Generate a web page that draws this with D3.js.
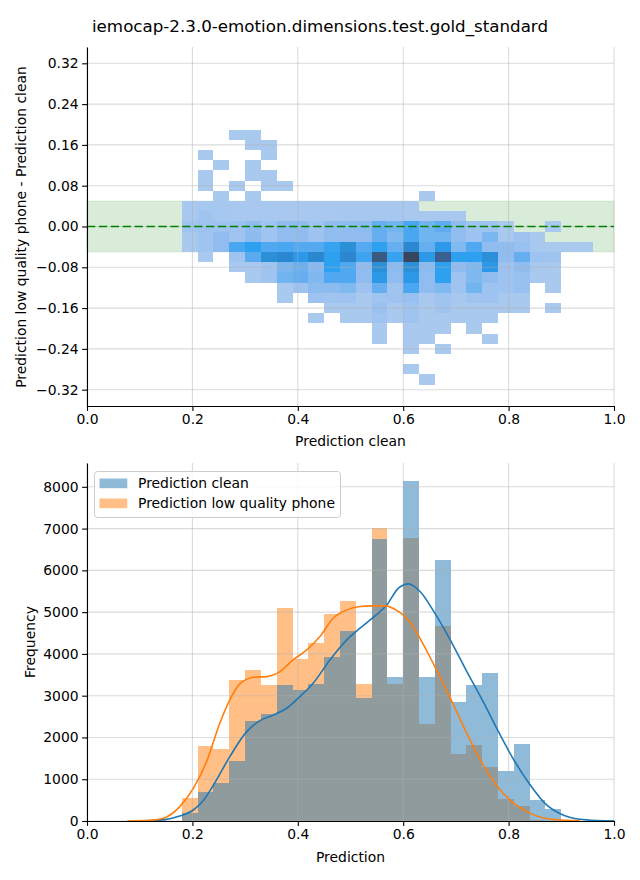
<!DOCTYPE html>
<html><head><meta charset="utf-8">
<script src="https://cdn.jsdelivr.net/npm/d3@7"></script>
<style>body{margin:0;background:#fff}svg{display:block}text{font-family:"DejaVu Sans",sans-serif}</style>
</head><body><svg id="c" width="640" height="880"></svg>
<script>
// ---------------- data ----------------
const title = "iemocap-2.3.0-emotion.dimensions.test.gold_standard";
const seriesNames = ["Prediction clean", "Prediction low quality phone"];
const xTicks = [0, 0.2, 0.4, 0.6, 0.8, 1.0];
const diffTicks = [-0.32, -0.24, -0.16, -0.08, 0, 0.08, 0.16, 0.24, 0.32];
const freqTicks = [0, 1000, 2000, 3000, 4000, 5000, 6000, 7000, 8000];
const bandLimits = [-0.05, 0.05];

// 2D histogram: x bin edges (Prediction clean), y bin edges (difference), counts [row][col]
const heatXEdges = [0.18,0.21,0.24,0.27,0.30,0.33,0.36,0.39,0.42,0.45,0.48,0.51,0.54,0.57,0.60,0.63,0.66,0.69,0.72,0.75,0.78,0.81,0.84,0.87,0.90,0.93,0.96];
const heatYEdges = [0.19,0.17,0.15,0.13,0.11,0.09,0.07,0.05,0.03,0.01,-0.01,-0.03,-0.05,-0.07,-0.09,-0.11,-0.13,-0.15,-0.17,-0.19,-0.21,-0.23,-0.25,-0.27,-0.29,-0.31];
const heatCounts = [
 [0,0,0,20,20,0,0,0,0,0,0,0,0,0,0,0,0,0,0,0,0,0,0,0,0,0],
 [0,0,0,0,20,20,0,0,0,0,0,0,0,0,0,0,0,0,0,0,0,0,0,0,0,0],
 [0,20,0,0,0,20,0,0,0,0,0,0,0,0,0,0,0,0,0,0,0,0,0,0,0,0],
 [0,0,20,0,20,0,0,0,0,0,0,0,0,0,0,0,0,0,0,0,0,0,0,0,0,0],
 [0,20,0,0,20,20,0,0,0,0,0,0,0,0,0,0,0,0,0,0,0,0,0,0,0,0],
 [0,20,0,20,0,20,20,0,0,0,0,0,0,0,0,0,0,0,0,0,0,0,0,0,0,0],
 [0,0,20,0,20,0,0,0,0,0,0,0,0,0,0,20,0,0,0,0,0,0,0,0,0,0],
 [30,60,50,40,40,40,40,40,40,40,40,40,40,40,40,0,0,0,0,0,0,0,0,0,0,0],
 [40,100,50,40,40,40,40,40,40,40,50,50,60,50,40,40,40,30,0,0,0,0,0,0,0,0],
 [100,120,120,120,240,100,240,240,100,240,240,270,560,480,730,480,600,240,100,100,20,0,0,20,0,0],
 [20,100,240,100,270,100,240,240,120,240,240,240,560,350,730,480,480,240,120,400,40,120,20,0,0,0],
 [20,100,240,730,850,700,730,670,670,810,1120,670,850,560,1230,560,990,350,700,240,240,170,40,20,20,20],
 [0,20,0,100,640,1120,1230,990,1230,850,1230,780,2040,810,2200,990,1870,850,850,1120,240,560,120,100,0,0],
 [0,0,0,40,40,100,400,520,300,850,700,240,1120,270,1120,270,850,240,350,990,120,240,40,20,0,0],
 [0,0,0,0,20,100,480,560,350,700,700,240,990,240,990,240,850,120,350,240,120,170,20,20,0,0],
 [0,0,0,0,0,0,20,120,270,270,350,120,560,100,730,240,350,100,480,120,100,170,0,20,0,0],
 [0,0,0,0,0,0,20,0,120,100,120,20,100,120,170,40,100,40,100,120,40,20,0,0,0,0],
 [0,0,0,0,0,0,0,0,0,20,20,20,170,20,100,20,100,20,20,20,20,20,0,20,0,0],
 [0,0,0,0,0,0,0,0,20,0,20,20,100,20,100,20,20,20,20,20,0,0,0,0,0,0],
 [0,0,0,0,0,0,0,0,0,0,0,0,20,0,20,20,20,0,20,0,0,0,0,0,0,0],
 [0,0,0,0,0,0,0,0,0,0,0,0,20,0,20,20,0,0,0,20,0,0,0,0,0,0],
 [0,0,0,0,0,0,0,0,0,0,0,0,0,0,20,0,20,0,0,0,0,0,0,0,0,0],
 [0,0,0,0,0,0,0,0,0,0,0,0,0,0,0,0,0,0,0,0,0,0,0,0,0,0],
 [0,0,0,0,0,0,0,0,0,0,0,0,0,0,20,0,0,0,0,0,0,0,0,0,0,0],
 [0,0,0,0,0,0,0,0,0,0,0,0,0,0,0,20,0,0,0,0,0,0,0,0,0,0]
];

// 1D histograms (shared bins)
const histEdges = [0.18,0.21,0.24,0.27,0.30,0.33,0.36,0.39,0.42,0.45,0.48,0.51,0.54,0.57,0.60,0.63,0.66,0.69,0.72,0.75,0.78,0.81,0.84,0.87,0.90];
const cleanCounts = [200,700,900,1445,2395,2563,3257,3138,3281,3936,4551,2954,6754,3441,8143,3441,6251,2850,3257,3553,1198,1844,503,287];
const phoneCounts = [558,1804,1725,3377,3617,3257,5110,3880,4271,4958,5270,3281,7018,3281,6778,2323,4679,1605,1820,1301,527,367,30,0];

// KDE curves (scaled to counts)
const kdeCleanX = [0.094,0.14,0.176,0.2017,0.22,0.24,0.271,0.303,0.328,0.354,0.379,0.404,0.429,0.461,0.493,0.518,0.539,0.569,0.591,0.610,0.632,0.660,0.691,0.719,0.750,0.779,0.810,0.841,0.869,0.899,0.935,0.97,1.0];
const kdeCleanY = [0,20,120,263,480,862,1541,2140,2403,2539,2699,2978,3297,3856,4335,4615,4830,5174,5573,5677,5493,4975,4295,3617,2898,2180,1461,862,423,168,40,12,5];
const kdePhoneX = [0.0765,0.12,0.145,0.176,0.2017,0.227,0.252,0.271,0.290,0.316,0.341,0.366,0.391,0.417,0.442,0.467,0.493,0.518,0.539,0.5655,0.591,0.610,0.630,0.660,0.691,0.719,0.750,0.779,0.810,0.841,0.869,0.90,0.935];
const kdePhoneY = [0,15,64,343,782,1421,2339,2898,3281,3441,3457,3577,3856,4096,4415,4855,5054,5134,5150,5150,5014,4814,4415,3697,2898,2140,1381,822,423,183,64,20,5];

// ---------------- drawing ----------------
const svg = d3.select("#c");
const FS = 13.9;
const gridStyle = s => s.attr("stroke", "#b0b0b0").attr("stroke-opacity", 0.45).attr("stroke-width", 1.1);

svg.append("text").attr("x", 320).attr("y", 32).attr("text-anchor", "middle")
  .attr("font-size", 16.7).text(title);

// ---- top panel ----
const xT = d3.scaleLinear().domain([0, 1]).range([87, 614]);
const yT = d3.scaleLinear().domain([-0.352, 0.352]).range([406, 47]);
const topG = svg.append("g");

topG.append("rect").attr("x", xT(0)).attr("width", xT(1) - xT(0))
  .attr("y", yT(bandLimits[1])).attr("height", yT(bandLimits[0]) - yT(bandLimits[1]))
  .attr("fill", "#008000").attr("fill-opacity", 0.15)
  .attr("stroke", "#008000").attr("stroke-opacity", 0.1);

const heatColor = d3.scaleLinear()
  .domain([20, 100, 240, 350, 480, 600, 700, 850, 990, 1120, 1230, 1870, 2040, 2200])
  .range(["#aac9ef","#a0c4f0","#90bcf0","#80b8f0","#70b4f0","#60acf0","#50a8f0","#2ea0f0","#2b98e8","#2b90d8","#2b88d0","#3a6090","#3a5a80","#36465f"])
  .clamp(true);

const cells = [];
heatCounts.forEach((row, r) => row.forEach((v, c) => { if (v > 0) cells.push({r, c, v}); }));
topG.append("g").attr("shape-rendering", "crispEdges").selectAll("rect").data(cells).join("rect")
  .attr("x", d => xT(heatXEdges[d.c]))
  .attr("width", d => xT(heatXEdges[d.c + 1]) - xT(heatXEdges[d.c]))
  .attr("y", d => yT(heatYEdges[d.r]))
  .attr("height", d => yT(heatYEdges[d.r + 1]) - yT(heatYEdges[d.r]))
  .attr("fill", d => heatColor(d.v));

// grid
topG.append("g").selectAll("line").data(xTicks).join("line")
  .attr("x1", d => xT(d)).attr("x2", d => xT(d)).attr("y1", 47).attr("y2", 406).call(gridStyle);
topG.append("g").selectAll("line").data(diffTicks).join("line")
  .attr("y1", d => yT(d)).attr("y2", d => yT(d)).attr("x1", 87).attr("x2", 614).call(gridStyle);

// zero line
topG.append("line").attr("x1", xT(0)).attr("x2", xT(1)).attr("y1", yT(0)).attr("y2", yT(0))
  .attr("stroke", "#008000").attr("stroke-width", 1.6).attr("stroke-dasharray", "8.3,3.6");

function styleAxis(g) {
  g.select(".domain").attr("stroke", "#000").attr("stroke-width", 1.1);
  g.selectAll(".tick line").attr("stroke", "#000").attr("stroke-width", 1.1);
  g.selectAll(".tick text").attr("font-size", FS).attr("fill", "#000").attr("font-family", '"DejaVu Sans",sans-serif');
}
topG.append("g").attr("transform", "translate(0,406)")
  .call(d3.axisBottom(xT).tickValues(xTicks).tickFormat(d3.format(".1f")).tickSize(4.9).tickPadding(3.5).tickSizeOuter(0))
  .call(styleAxis);
topG.append("g").attr("transform", "translate(87,0)")
  .call(d3.axisLeft(yT).tickValues(diffTicks).tickFormat(d3.format(".2f")).tickSize(4.9).tickPadding(3.5).tickSizeOuter(0))
  .call(styleAxis);
topG.append("text").attr("x", 350.5).attr("y", 446).attr("text-anchor", "middle").attr("font-size", FS).text(seriesNames[0]);
topG.append("text").attr("transform", "translate(21,227) rotate(-90)").attr("dy", "0.35em")
  .attr("text-anchor", "middle").attr("font-size", FS).text("Prediction low quality phone - Prediction clean");

// ---- bottom panel ----
const xB = d3.scaleLinear().domain([0, 1]).range([87, 614]);
const yB = d3.scaleLinear().domain([0, 8570]).range([821, 463]);
const botG = svg.append("g");
const colors = ["#1f77b4", "#ff7f0e"];
const series = [cleanCounts, phoneCounts];

// draw phone first, clean on top
[1, 0].forEach(s => {
  botG.append("g").attr("shape-rendering", "crispEdges").selectAll("rect").data(series[s]).join("rect")
    .attr("x", (d, i) => xB(histEdges[i]))
    .attr("width", (d, i) => xB(histEdges[i + 1]) - xB(histEdges[i]))
    .attr("y", d => yB(d)).attr("height", d => yB(0) - yB(d))
    .attr("fill", colors[s]).attr("fill-opacity", 0.5);
});

botG.append("g").selectAll("line").data(xTicks).join("line")
  .attr("x1", d => xB(d)).attr("x2", d => xB(d)).attr("y1", 463).attr("y2", 821).call(gridStyle);
botG.append("g").selectAll("line").data(freqTicks).join("line")
  .attr("y1", d => yB(d)).attr("y2", d => yB(d)).attr("x1", 87).attr("x2", 614).call(gridStyle);

const line = d3.line().x(d => xB(d[0])).y(d => yB(d[1])).curve(d3.curveMonotoneX);
botG.append("path").datum(d3.zip(kdeCleanX, kdeCleanY)).attr("d", line)
  .attr("fill", "none").attr("stroke", colors[0]).attr("stroke-width", 1.6);
botG.append("path").datum(d3.zip(kdePhoneX, kdePhoneY)).attr("d", line)
  .attr("fill", "none").attr("stroke", colors[1]).attr("stroke-width", 1.6);

botG.append("g").attr("transform", "translate(0,821)")
  .call(d3.axisBottom(xB).tickValues(xTicks).tickFormat(d3.format(".1f")).tickSize(4.9).tickPadding(3.5).tickSizeOuter(0))
  .call(styleAxis);
botG.append("g").attr("transform", "translate(87,0)")
  .call(d3.axisLeft(yB).tickValues(freqTicks).tickFormat(d3.format("d")).tickSize(4.9).tickPadding(3.5).tickSizeOuter(0))
  .call(styleAxis);
botG.append("text").attr("x", 350.5).attr("y", 862).attr("text-anchor", "middle").attr("font-size", FS).text("Prediction");
botG.append("text").attr("transform", "translate(30,642) rotate(-90)").attr("dy", "0.35em")
  .attr("text-anchor", "middle").attr("font-size", FS).text("Frequency");

// legend
const lg = botG.append("g");
lg.append("rect").attr("x", 94.5).attr("y", 471.5).attr("width", 246).attr("height", 46).attr("rx", 3)
  .attr("fill", "#fff").attr("fill-opacity", 0.8).attr("stroke", "#cccccc").attr("stroke-width", 1);
seriesNames.forEach((n, i) => {
  lg.append("rect").attr("x", 99.5).attr("y", 478.5 + i * 20).attr("width", 27.8).attr("height", 9.7)
    .attr("fill", colors[i]).attr("fill-opacity", 0.5);
  lg.append("text").attr("x", 138).attr("y", 488 + i * 20).attr("font-size", FS).text(n);
});
</script></body></html>
